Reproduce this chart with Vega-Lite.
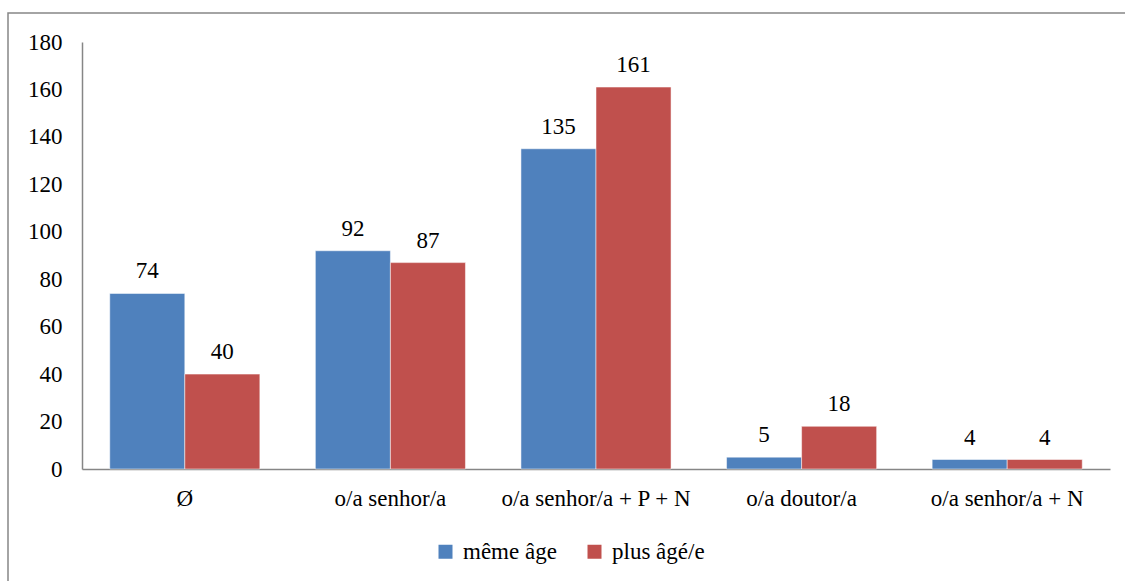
{
  "$schema": "https://vega.github.io/schema/vega-lite/v6.json",
  "width": 1135,
  "height": 600,
  "autosize": {"type": "none"},
  "padding": {"left": 8, "top": 13, "right": 0, "bottom": 0},
  "background": "white",
  "config": {
    "view": {"stroke": "#868686", "strokeWidth": 1.5},
    "font": "Liberation Serif",
    "axis": {"labelFont": "Liberation Serif", "labelFontSize": 23, "labelColor": "#000000", "grid": false, "ticks": false, "domainColor": "#868686", "domainWidth": 1.5, "title": null},
    "legend": {"labelFont": "Liberation Serif", "labelFontSize": 23, "labelColor": "#000000"}
  },
  "data": {
    "values": [
      {"category": "Ø", "group": "même âge", "count": 74},
      {"category": "Ø", "group": "plus âgé/e", "count": 40},
      {"category": "o/a senhor/a", "group": "même âge", "count": 92},
      {"category": "o/a senhor/a", "group": "plus âgé/e", "count": 87},
      {"category": "o/a senhor/a + P + N", "group": "même âge", "count": 135},
      {"category": "o/a senhor/a + P + N", "group": "plus âgé/e", "count": 161},
      {"category": "o/a doutor/a", "group": "même âge", "count": 5},
      {"category": "o/a doutor/a", "group": "plus âgé/e", "count": 18},
      {"category": "o/a senhor/a + N", "group": "même âge", "count": 4},
      {"category": "o/a senhor/a + N", "group": "plus âgé/e", "count": 4}
    ]
  },
  "encoding": {
    "x": {
      "field": "category",
      "type": "nominal",
      "sort": null,
      "scale": {"range": [74, 1102], "paddingInner": 0.27, "paddingOuter": 0.135},
      "axis": {"labelAngle": 0, "labelPadding": 18, "labelLimit": 400, "offset": -144}
    },
    "xOffset": {"field": "group", "type": "nominal"},
    "y": {
      "field": "count",
      "type": "quantitative",
      "scale": {"domain": [0, 180], "nice": false, "range": [456, 29]},
      "axis": {"values": [0, 20, 40, 60, 80, 100, 120, 140, 160, 180], "labelPadding": 20, "offset": -74}
    }
  },
  "layer": [
    {
      "mark": {"type": "bar", "stroke": "white", "strokeWidth": 0.5},
      "encoding": {
        "color": {
          "field": "group",
          "type": "nominal",
          "scale": {"domain": ["même âge", "plus âgé/e"], "range": ["#4F81BD", "#C0504D"]},
          "legend": {"orient": "none", "legendX": 426, "legendY": 527, "direction": "horizontal", "title": null, "symbolType": "square", "symbolSize": 196, "symbolStrokeWidth": 0, "labelOffset": 6, "columnPadding": 26}
        }
      }
    },
    {
      "mark": {"type": "text", "baseline": "alphabetic", "dy": -15, "fontSize": 23, "font": "Liberation Serif", "color": "#000000"},
      "encoding": {"text": {"field": "count", "type": "quantitative"}}
    }
  ]
}
